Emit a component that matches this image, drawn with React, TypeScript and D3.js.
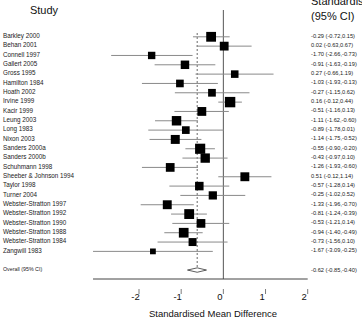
import React from "react";
import * as d3 from "d3";

// Study-level standardised mean differences with 95% confidence limits
const studies = [
  "Barkley 2000",
  "Behan 2001",
  "Connell 1997",
  "Gallert 2005",
  "Gross 1995",
  "Hamilton 1984",
  "Hoath 2002",
  "Irvine 1999",
  "Kacir 1999",
  "Leung 2003",
  "Long 1983",
  "Nixon 2003",
  "Sanders 2000a",
  "Sanders 2000b",
  "Schuhmann 1998",
  "Sheeber & Johnson 1994",
  "Taylor 1998",
  "Turner 2004",
  "Webster-Stratton 1997",
  "Webster-Stratton 1992",
  "Webster-Stratton 1990",
  "Webster-Stratton 1988",
  "Webster-Stratton 1984",
  "Zangwill 1983",
];
const estimates = [
  -0.29, 0.02, -1.7, -0.91, 0.27, -1.03, -0.27, 0.16, -0.51, -1.11, -0.89, -1.14,
  -0.55, -0.43, -1.26, 0.51, -0.57, -0.25, -1.33, -0.81, -0.53, -0.94, -0.73, -1.67,
];
const lower = [
  -0.72, -0.63, -2.66, -1.63, -0.66, -1.93, -1.15, -0.12, -1.16, -1.62, -1.78, -1.75,
  -0.9, -0.97, -1.93, -0.12, -1.28, -1.02, -1.96, -1.24, -1.21, -1.4, -1.56, -3.09,
];
const upper = [
  0.15, 0.67, -0.73, -0.19, 1.19, -0.13, 0.62, 0.44, 0.13, -0.6, 0.01, -0.52, -0.2,
  0.1, -0.6, 1.14, 0.14, 0.52, -0.7, -0.39, 0.14, -0.49, 0.1, -0.25,
];

// Pooled (random-effects) estimate
const overallLabel = "Overall (95% CI)";
const overall = [-0.62, -0.85, -0.4];

const xTicks = [-2, -1, 0, 1, 2];
const xTitle = "Standardised Mean Difference";
const leftHeader = "Study";
const rightHeader = ["Standardised Mean Difference", "(95% CI)"];

const W = 362;
const H = 321;
const FONT = "'Liberation Sans', Arial, Helvetica, sans-serif";

const fmt = (v: number) => v.toFixed(2);

export default function App() {
  const x = d3.scaleLinear().domain([-2, 2]).range([139, 307.7]);
  const row = (i: number) => 36.8 + i * 9.33;

  // DerSimonian-Laird random-effects weights for box sizes
  const se = lower.map((lo, i) => (upper[i] - lo) / (2 * 1.96));
  const wf = se.map((s) => 1 / (s * s));
  const sw = d3.sum(wf);
  const ybar = d3.sum(wf.map((w, i) => w * estimates[i])) / sw;
  const Q = d3.sum(wf.map((w, i) => w * (estimates[i] - ybar) ** 2));
  const C = sw - d3.sum(wf.map((w) => w * w)) / sw;
  const tau2 = Math.max(0, (Q - (studies.length - 1)) / C);
  const wr = se.map((s) => 1 / (s * s + tau2));
  const side = d3.scaleSqrt().domain([0, d3.max(wr) as number]).range([0, 10.4]);

  const overallRow = row(studies.length + 1);
  const axisY = 279;
  const axisStart = x(d3.min(lower) as number);

  const diamond = [
    [x(overall[1]), overallRow],
    [x(overall[0]), overallRow - 2.2],
    [x(overall[2]), overallRow],
    [x(overall[0]), overallRow + 2.2],
  ];

  return (
    <svg
      width={W}
      height={H}
      style={{ position: "absolute", left: 0, top: 0, background: "#fff" }}
      fontFamily={FONT}
    >
      {/* headers */}
      <text x={44} y={13.5} fontSize={11} textAnchor="middle" fill="#111">
        {leftHeader}
      </text>
      {rightHeader.map((t, i) => (
        <text key={t} x={311} y={5 + i * 14.5} fontSize={11} fill="#111">
          {t}
        </text>
      ))}

      {/* line of no effect */}
      <line x1={x(0)} x2={x(0)} y1={10} y2={axisY} stroke="#555" strokeWidth={1} />
      {/* pooled estimate reference line */}
      <line
        x1={x(overall[0])}
        x2={x(overall[0])}
        y1={33}
        y2={overallRow - 2.2}
        stroke="#444"
        strokeWidth={0.8}
        strokeDasharray="2,2"
      />

      {/* studies */}
      {studies.map((s, i) => {
        const y = row(i);
        const b = side(wr[i]);
        return (
          <g key={s}>
            <line x1={x(lower[i])} x2={x(upper[i])} y1={y} y2={y} stroke="#8a8a8a" strokeWidth={1} />
            <rect x={x(estimates[i]) - b / 2} y={y - b / 2} width={b} height={b} fill="#000" />
            <text x={3} y={y + 1.2} fontSize={6.3} fill="#222">
              {s}
            </text>
            <text x={311} y={y + 1} fontSize={5.7} fill="#222">
              {`${fmt(estimates[i])} (${fmt(lower[i])},${fmt(upper[i])})`}
            </text>
          </g>
        );
      })}

      {/* overall */}
      <polygon
        points={diamond.map((p) => p.join(",")).join(" ")}
        fill="#fff"
        stroke="#333"
        strokeWidth={0.8}
      />
      <text x={3} y={overallRow + 0.8} fontSize={5.3} fill="#222">
        {overallLabel}
      </text>
      <text x={311} y={overallRow + 1.8} fontSize={5.7} fill="#222">
        {`${fmt(overall[0])} (${fmt(overall[1])},${fmt(overall[2])})`}
      </text>

      {/* x axis */}
      <line x1={axisStart} x2={x(2)} y1={axisY} y2={axisY} stroke="#444" strokeWidth={1} />
      {xTicks.map((t) => (
        <g key={t}>
          <line x1={x(t)} x2={x(t)} y1={289} y2={294} stroke="#444" strokeWidth={0.7} />
          <text x={x(t) - 3.5} y={299.5} fontSize={9.5} textAnchor="middle" fill="#111">
            {t}
          </text>
        </g>
      ))}
      <text x={213} y={317} fontSize={9.5} textAnchor="middle" fill="#111">
        {xTitle}
      </text>
    </svg>
  );
}
